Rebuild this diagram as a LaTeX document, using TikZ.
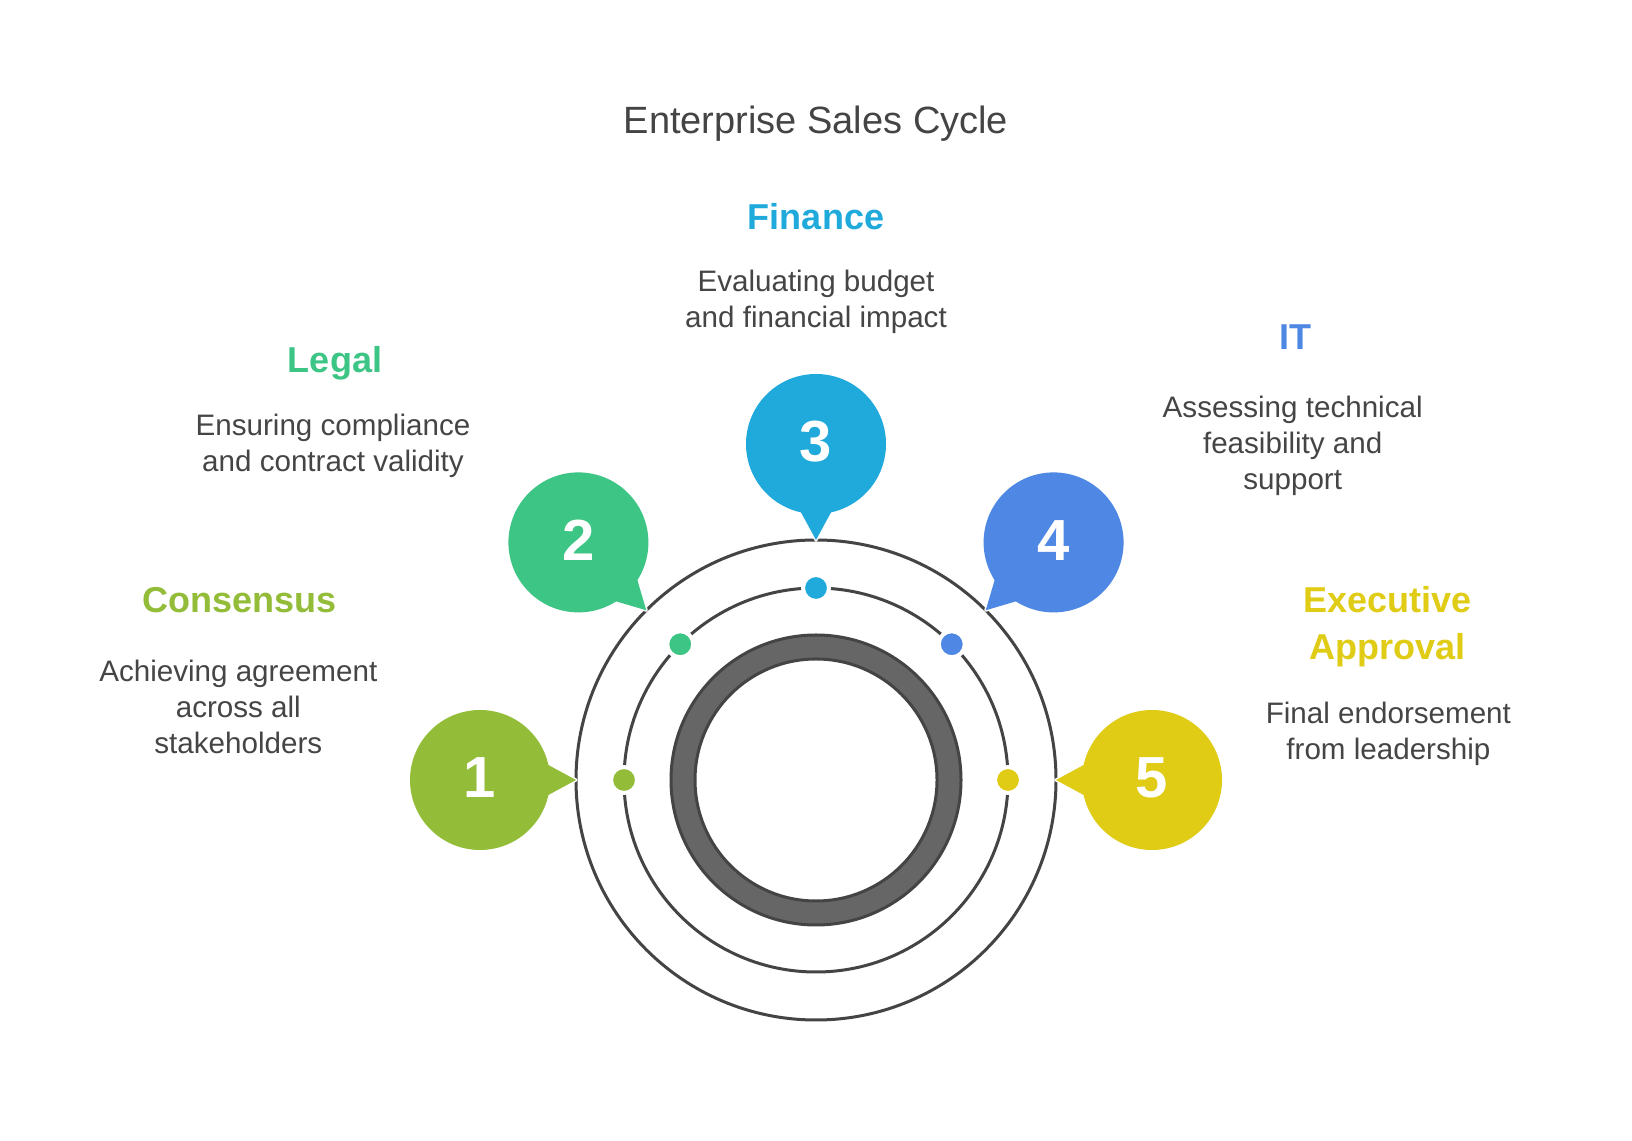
\documentclass[tikz,border=0pt]{standalone}
\usepackage{fontspec}
\setmainfont{Liberation Sans}
\usetikzlibrary{calc}
\definecolor{cA}{HTML}{93BC38}
\definecolor{cB}{HTML}{3DC585}
\definecolor{cC}{HTML}{1FAADB}
\definecolor{cD}{HTML}{4E88E4}
\definecolor{cE}{HTML}{E0CB15}
\definecolor{linecol}{HTML}{444444}
\definecolor{ringcol}{HTML}{666666}
\definecolor{txtcol}{HTML}{454545}
\newcommand\mybubble[4]{%
  \begin{scope}[shift={($(C)+(#2:336)$)}, rotate=#2+180]
    \path[draw=white, line width=1.5pt, line join=round] (0,0) circle (70);
    \path[draw=white, line width=1.5pt, line join=round] (50,-25) -- (96,0) -- (50,25) -- cycle;
    \fill[#3] (0,0) circle (70);
    \fill[#3] (50,-25) -- (96,0) -- (50,25) -- cycle;
  \end{scope}
  \node[num] (#1) at ($(C)+(#2:336)+(0,2)$) {#4};
}
\begin{document}
\begin{tikzpicture}[x=0.5pt,y=0.5pt,
  heading/.style={font=\fontsize{18}{23.5}\selectfont\bfseries, inner sep=0pt, align=center},
  desc/.style={font=\fontsize{14.8}{18}\selectfont, text=txtcol, align=center, inner sep=0pt},
  num/.style={font=\fontsize{29}{32}\selectfont\bfseries, text=white, inner sep=0pt},
  orbit/.style={draw=linecol, line width=1.5pt},
  dotnode/.style={circle, draw=white, line width=2pt, minimum size=13pt, inner sep=0pt}]
\useasboundingbox[fill=white] (0,0) rectangle (1632,1140);
\coordinate (C) at (816,360);
% orbits
\draw[orbit] (C) circle (240);
\draw[orbit] (C) circle (192);
\draw[draw=linecol, fill=ringcol, line width=1.5pt, even odd rule] (C) circle (145) (C) circle (121);
% bubbles
\mybubble{n1}{180}{cA}{1}
\mybubble{n2}{135}{cB}{2}
\mybubble{n3}{90}{cC}{3}
\mybubble{n4}{45}{cD}{4}
\mybubble{n5}{0}{cE}{5}
% dots
\node[dotnode, fill=cA] (d1) at ($(C)+(180:192)$) {};
\node[dotnode, fill=cB] (d2) at ($(C)+(135:192)$) {};
\node[dotnode, fill=cC] (d3) at ($(C)+(90:192)$) {};
\node[dotnode, fill=cD] (d4) at ($(C)+(45:192)$) {};
\node[dotnode, fill=cE] (d5) at ($(C)+(0:192)$) {};
% title
\node[font=\fontsize{19}{22}\selectfont, text=linecol, inner sep=0pt] (title) at (816,1016) {Enterprise Sales Cycle};
% labels
\node[heading, text=cC] (h3) at (816,923) {Finance};
\node[desc] (t3) at (816,837.8) {Evaluating budget\\and financial impact};
\node[heading, text=cB] (h2) at (335,777) {Legal};
\node[desc] (t2) at (333,694) {Ensuring compliance\\and contract validity};
\node[heading, text=cA] (h1) at (239.4,539.5) {Consensus};
\node[desc] (t1) at (238.3,433) {Achieving agreement\\across all\\stakeholders};
\node[heading, text=cD] (h4) at (1295.8,803) {IT};
\node[desc] (t4) at (1292.7,694.6) {Assessing technical\\feasibility and\\support};
\node[heading, text=cE] (h5) at (1387.4,513) {Executive\\Approval};
\node[desc] (t5) at (1388.4,406.5) {Final endorsement\\from leadership};
\end{tikzpicture}
\end{document}
